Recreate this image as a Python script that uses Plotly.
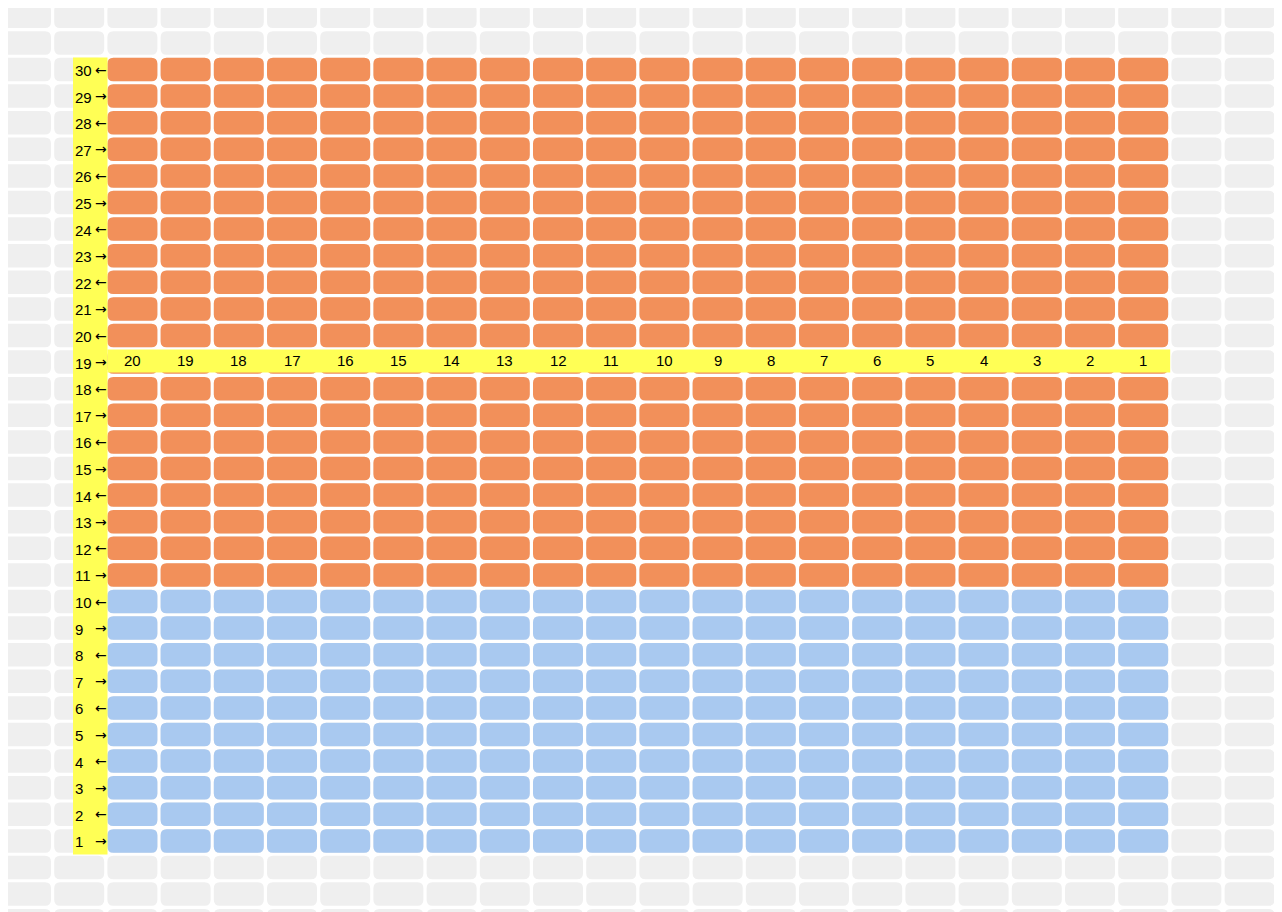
import plotly.graph_objects as go

# Data
col_numbers = list(range(1, 21))          # seat columns (1 at right, 20 at left)
row_numbers = list(range(1, 31))          # seat rows (1 at bottom)
blue_rows = list(range(1, 11))            # section A
orange_rows = list(range(11, 31))         # section B
label_row = 19                            # row carrying column numbers

# Geometry (page-pixel data units)
X0, DX = 26.0, 53.2
Y0, DY = 16.3, 26.6
W, H, R = 50.0, 23.5, 6.0
OFF = 8  # page body margin
grid_cols = range(-1, 26)
grid_rows = range(-1, 36)

def col_x(c):
    return X0 + DX * (22 - c)

def row_y(r):
    return Y0 + DY * (32 - r)

def rrect(cx, cy, w=W, h=H, r=R):
    x0, x1, y0, y1 = cx - w/2, cx + w/2, cy - h/2, cy + h/2
    return (f"M{x0+r},{y0} L{x1-r},{y0} Q{x1},{y0} {x1},{y0+r} L{x1},{y1-r} "
            f"Q{x1},{y1} {x1-r},{y1} L{x0+r},{y1} Q{x0},{y1} {x0},{y1-r} "
            f"L{x0},{y0+r} Q{x0},{y0} {x0+r},{y0} Z ")

gray_path = "".join(rrect(X0 + DX*i, Y0 + DY*j) for i in grid_cols for j in grid_rows)
orange_path = "".join(rrect(col_x(c), row_y(r)) for c in col_numbers for r in orange_rows)
blue_path = "".join(rrect(col_x(c), row_y(r)) for c in col_numbers for r in blue_rows)

shapes = [
    dict(type="path", path=gray_path, fillcolor="#EFEFEF", line=dict(width=0), layer="below"),
    dict(type="path", path=orange_path, fillcolor="#F2905A", line=dict(width=0), layer="below"),
    dict(type="path", path=blue_path, fillcolor="#A9C9F0", line=dict(width=0), layer="below"),
    dict(type="rect", x0=73, x1=107.5, y0=row_y(30) - 12, y1=row_y(1) + 13.5,
         fillcolor="#FFFF55", line=dict(width=0), layer="below"),
    dict(type="rect", x0=107.5, x1=col_x(1) + 27, y0=row_y(label_row) - 12.5, y1=row_y(label_row) + 10.5,
         fillcolor="#FFFF55", line=dict(width=0), layer="below"),
]

annotations = []
font = dict(family="Liberation Sans, Arial", size=15, color="black")
for r in row_numbers:
    annotations.append(dict(x=73, y=row_y(r) + 1, text=str(r), showarrow=False,
                            xanchor="left", yanchor="middle", font=font))
    annotations.append(dict(x=100.5, y=row_y(r), text="←" if r % 2 == 0 else "→", showarrow=False,
                            xanchor="center", yanchor="middle", font=dict(family="DejaVu Sans", size=14, color="black")))
for c in col_numbers:
    annotations.append(dict(x=col_x(c), y=row_y(label_row) - 2, text=str(c), showarrow=False,
                            xanchor="center", yanchor="middle", font=font))

fig = go.Figure(go.Scatter(x=[OFF], y=[OFF], mode="markers", marker=dict(opacity=0), hoverinfo="skip"))
fig.update_layout(
    width=1282, height=912, margin=dict(l=0, r=0, t=0, b=0),
    paper_bgcolor="white", plot_bgcolor="white", showlegend=False,
    xaxis=dict(range=[OFF, 1282 + OFF], visible=False, fixedrange=True),
    yaxis=dict(range=[912 + OFF, OFF], visible=False, fixedrange=True),
    shapes=shapes, annotations=annotations,
)
fig.write_html("out.html", config={"displayModeBar": False})
